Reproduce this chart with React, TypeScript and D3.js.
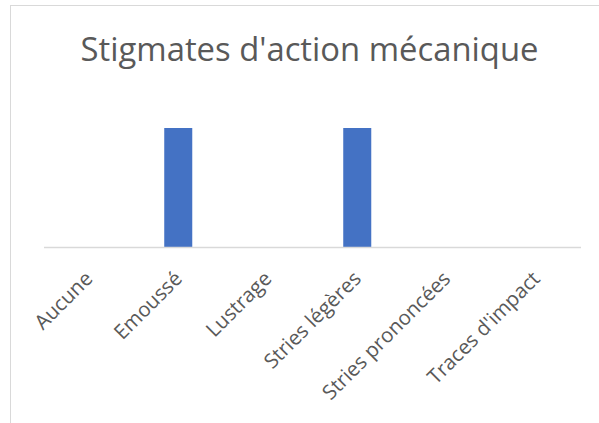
import React from "react";
import * as d3 from "d3";

const categories = ["Aucune", "Emoussé", "Lustrage", "Stries légères", "Stries prononcées", "Traces d'impact"];
const values = [0, 1, 0, 1, 0, 0];
const title = "Stigmates d'action mécanique";

export default function App() {
  const W = 599, H = 423;
  const x = d3.scaleBand<string>().domain(categories).range([44, 581]).paddingInner(0.687).paddingOuter(0.3435);
  const y = d3.scaleLinear().domain([0, 1]).range([247, 128]);
  const font = "'Open Sans', sans-serif";
  return (
    <svg width={W} height={H} style={{ position: "absolute", left: 0, top: 0 }}>
      <rect x={0} y={0} width={W} height={H} fill="#fff" />
      <rect x={10.5} y={5.5} width={W + 20} height={H + 20} fill="none" stroke="#d9d9d9" strokeWidth={1} />
      <text x={309.5} y={60.5} textAnchor="middle" fontFamily={font} fontSize={32.8} fill="#595959">{title}</text>
      {categories.map((c, i) => (
        <rect key={c} x={x(c)} y={y(values[i])} width={x.bandwidth()} height={y(0) - y(values[i])} fill="#4472c4" />
      ))}
      <line x1={44} x2={581} y1={y(0) + 0.5} y2={y(0) + 0.5} stroke="#d9d9d9" strokeWidth={1.5} />
      {categories.map((c) => {
        const cx = (x(c) as number) + x.bandwidth() / 2;
        const px = cx + 5, py = y(0) + 33;
        return (
          <text key={c} x={px} y={py} transform={`rotate(-45 ${px} ${py})`} textAnchor="end" fontFamily={font} fontSize={20.4} fill="#595959">{c}</text>
        );
      })}
    </svg>
  );
}
